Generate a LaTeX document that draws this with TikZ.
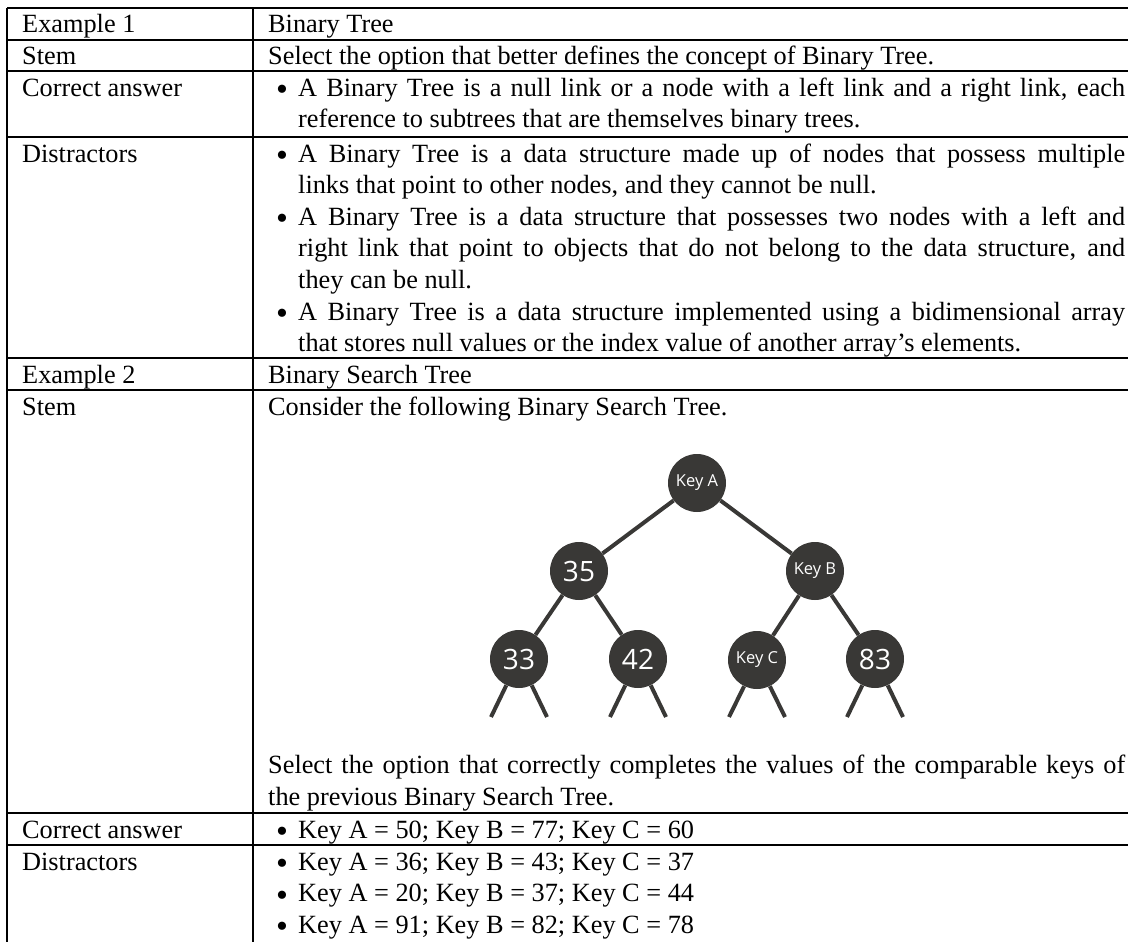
\documentclass[tikz,border=0pt]{standalone}
\usepackage{fontspec}
\setmainfont{Liberation Serif}
\newfontfamily\treefont{Open Sans}
\definecolor{nodegray}{HTML}{393836}
\newcommand{\tabfont}{\fontsize{26.3pt}{31.6pt}\selectfont}
% one justified line filling the cell width
\newcommand{\jl}[1]{\hbox to\linewidth{#1}}
% a cell whose baseline is the baseline of its first line
\newcommand{\cellbox}[2]{\parbox[t]{#1}{\tabfont\setlength{\parindent}{0pt}#2}}
\tikzset{
  rule/.style={line width=1.3pt},
  txt/.style={inner sep=0pt, anchor=base west, font=\tabfont},
  bul/.style={inner sep=0pt, anchor=base, yshift=-4.5pt,
              font=\fontsize{34pt}{34pt}\selectfont},
  key/.style={circle, fill=nodegray, minimum size=58pt, inner sep=0pt,
              text=white, font=\treefont\fontsize{16.5pt}{18pt}\selectfont},
  num/.style={key, font=\treefont\fontsize{28pt}{30pt}\selectfont},
  edge/.style={draw=nodegray, line width=4pt},
}
\begin{document}
\begin{tikzpicture}[x=1pt, y=-1pt]
\useasboundingbox (0,0) rectangle (1128,942);

% table rules
\foreach \yy in {8,40,71,137,358,390,813,845}
  \draw[rule] (7,\yy) -- (1128,\yy);
\draw[rule] (7,8) -- (7,942);
\draw[rule] (253,8) -- (253,942);

% ---- Example 1 ----
\node[txt] (h1) at (22,33) {Example 1};
\node[txt] (t1) at (268,33) {Binary Tree};
\node[txt] (s1) at (22,65) {Stem};
\node[txt] (st1) at (268,65) {Select the option that better defines the concept of Binary Tree.};
\node[txt] (c1) at (22,96) {Correct answer};
\node[bul] (cb1) at (282,96) {•};
\node[txt] (ca1) at (298,96) {\cellbox{827pt}{%
  \jl{A Binary Tree is a null link or a node with a left link and a right link, each}
  \hbox{reference to subtrees that are themselves binary trees.}}};
\node[txt] (d1) at (22,162) {Distractors};
\node[bul] (db1) at (282,162) {•};
\node[txt] (da1) at (298,162) {\cellbox{827pt}{%
  \jl{A Binary Tree is a data structure made up of nodes that possess multiple}
  \hbox{links that point to other nodes, and they cannot be null.}}};
\node[bul] (db2) at (282,225.2) {•};
\node[txt] (da2) at (298,225.2) {\cellbox{827pt}{%
  \jl{A Binary Tree is a data structure that possesses two nodes with a left and}
  \jl{right link that point to objects that do not belong to the data structure, and}
  \hbox{they can be null.}}};
\node[bul] (db3) at (282,320) {•};
\node[txt] (da3) at (298,320) {\cellbox{827pt}{%
  \jl{A Binary Tree is a data structure implemented using a bidimensional array}
  \hbox{that stores null values or the index value of another array’s elements.}}};

% ---- Example 2 ----
\node[txt] (h2) at (22,383) {Example 2};
\node[txt] (t2) at (268,383) {Binary Search Tree};
\node[txt] (s2) at (22,415) {Stem};
\node[txt] (st2) at (268,415) {Consider the following Binary Search Tree.};

% binary search tree
\node[key] (nA)  at (697,483) {Key A};
\node[num] (n35) at (579,571) {35};
\node[key] (nB)  at (815,571) {Key B};
\node[num] (n33) at (519,659) {33};
\node[num] (n42) at (638,659) {42};
\node[key] (nC)  at (757,660) {Key C};
\node[num] (n83) at (875,659) {83};
\path[edge] (nA) -- (n35);
\path[edge] (nA) -- (nB);
\path[edge] (n35) -- (n33);
\path[edge] (n35) -- (n42);
\path[edge] (nB) -- (nC);
\path[edge] (nB) -- (n83);
% empty subtrees below the last level
\foreach \n/\x in {n33/519,n42/638,nC/757,n83/875}{
  \coordinate (\n-l) at (\x-28,717);
  \coordinate (\n-r) at (\x+28,717);
  \path[edge] (\n) -- (\n-l);
  \path[edge] (\n) -- (\n-r);
}

\node[txt] (st3) at (268,773.4) {\cellbox{857pt}{%
  \jl{Select the option that correctly completes the values of the comparable keys of}
  \hbox{the previous Binary Search Tree.}}};
\node[txt] (c2) at (22,838) {Correct answer};
\node[bul] (cb2) at (282,838) {•};
\node[txt] (ca2) at (298,838) {Key A = 50; Key B = 77; Key C = 60};
\node[txt] (d2) at (22,870) {Distractors};
\node[bul] (db4) at (282,870) {•};
\node[txt] (da4) at (298,870) {Key A = 36; Key B = 43; Key C = 37};
\node[bul] (db5) at (282,901.6) {•};
\node[txt] (da5) at (298,901.6) {Key A = 20; Key B = 37; Key C = 44};
\node[bul] (db6) at (282,933.2) {•};
\node[txt] (da6) at (298,933.2) {Key A = 91; Key B = 82; Key C = 78};
\end{tikzpicture}
\end{document}
